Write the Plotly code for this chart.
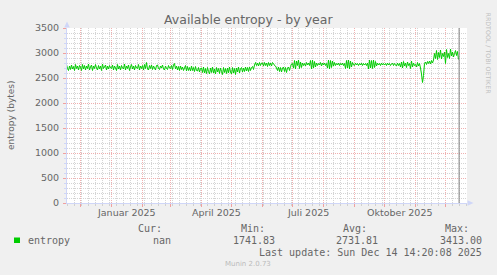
import pandas as pd
import plotly.graph_objects as go

# ---- data (daily averages, bytes) ----
nov_2024 = [2770, 2690, 2650, 2740, 2670, 2760, 2680, 2730, 2650, 2770, 2690, 2740, 2660, 2750]
dec_2024 = [2720, 2650, 2770, 2680, 2750, 2660, 2740, 2690, 2780, 2660, 2720, 2760, 2650, 2740, 2690, 2770,
            2700, 2660, 2750, 2680, 2740, 2650, 2780, 2690, 2720, 2760, 2660, 2740, 2680, 2750, 2700]
jan_2025 = [2690, 2760, 2660, 2740, 2700, 2650, 2770, 2680, 2740, 2660, 2750, 2700, 2680, 2780, 2660, 2740,
            2690, 2760, 2650, 2720, 2770, 2680, 2740, 2660, 2750, 2700, 2690, 2770, 2660, 2740, 2690]
feb_2025 = [2750, 2660, 2770, 2690, 2810, 2680, 2660, 2750, 2690, 2760, 2670, 2740, 2700, 2660, 2750, 2760,
            2690, 2670, 2740, 2700, 2760, 2680, 2660, 2740, 2690, 2670, 2750, 2700]
mar_2025 = [2690, 2750, 2670, 2760, 2790, 2680, 2740, 2660, 2730, 2650, 2740, 2670, 2720, 2650, 2700, 2750,
            2640, 2730, 2650, 2710, 2640, 2740, 2650, 2710, 2630, 2730, 2650, 2640, 2710, 2620, 2690]
apr_2025 = [2700, 2610, 2720, 2600, 2690, 2590, 2710, 2630, 2580, 2700, 2610, 2720, 2600, 2680, 2580, 2710,
            2620, 2690, 2590, 2700, 2630, 2570, 2710, 2610, 2690, 2590, 2700, 2600, 2720, 2620]
may_2025 = [2580, 2710, 2600, 2690, 2570, 2700, 2620, 2720, 2600, 2690, 2710, 2620, 2700, 2630, 2720, 2640,
            2710, 2630, 2720, 2650, 2710, 2730, 2670, 2760, 2810, 2750, 2800, 2740, 2810, 2750, 2800]
jun_2025 = [2800, 2740, 2810, 2750, 2800, 2730, 2810, 2750, 2800, 2740, 2810, 2790, 2750, 2740, 2700, 2650,
            2720, 2630, 2710, 2620, 2700, 2720, 2630, 2710, 2610, 2700, 2720, 2650, 2730, 2780]
jul_2025 = [2790, 2700, 2850, 2680, 2840, 2750, 2860, 2690, 2820, 2710, 2800, 2750, 2790, 2740, 2810, 2760,
            2800, 2750, 2850, 2680, 2860, 2700, 2830, 2720, 2800, 2750, 2790, 2760, 2810, 2740, 2800]
aug_2025 = [2760, 2800, 2750, 2790, 2700, 2860, 2680, 2850, 2710, 2840, 2740, 2810, 2750, 2790, 2760, 2800,
            2750, 2790, 2760, 2800, 2750, 2790, 2690, 2850, 2700, 2860, 2680, 2840, 2720, 2810, 2760]
sep_2025 = [2750, 2800, 2760, 2790, 2750, 2790, 2760, 2800, 2750, 2790, 2760, 2790, 2750, 2800, 2680, 2860,
            2700, 2850, 2690, 2860, 2710, 2830, 2740, 2800, 2760, 2790, 2750, 2800, 2760, 2790]
oct_2025 = [2760, 2790, 2750, 2800, 2760, 2790, 2750, 2780, 2800, 2750, 2790, 2760, 2740, 2800, 2750, 2790,
            2720, 2820, 2700, 2830, 2740, 2800, 2710, 2820, 2750, 2790, 2690, 2840, 2720, 2800, 2750]
nov_2025 = [2770, 2720, 2810, 2740, 2790, 2700, 2580, 2410, 2550, 2790, 2820, 2770, 2830, 2790, 2840, 2780,
            2850, 2800, 2860, 2990, 2890, 3050, 2870, 3010, 2910, 3060, 2880, 2990, 2930, 3020]
dec_2025 = [2790, 3070, 2910, 2990, 2890, 3080, 2940, 3020, 2920, 2990, 3050, 2950, 3030, 2870]

month_starts = ["2024-11-17", "2024-12-01", "2025-01-01", "2025-02-01", "2025-03-01", "2025-04-01",
                "2025-05-01", "2025-06-01", "2025-07-01", "2025-08-01", "2025-09-01", "2025-10-01",
                "2025-11-01", "2025-12-01"]
month_values = [nov_2024, dec_2024, jan_2025, feb_2025, mar_2025, apr_2025, may_2025, jun_2025,
                jul_2025, aug_2025, sep_2025, oct_2025, nov_2025, dec_2025]

x_label_dates = ["2025-01-16", "2025-04-16", "2025-07-16", "2025-10-16"]
x_label_text = ["Januar 2025", "April 2025", "Juli 2025", "Oktober 2025"]

legend_name = "entropy"
stat_heads = ["Cur:", "Min:", "Avg:", "Max:"]
stat_vals = ["nan", "1741.83", "2731.81", "3413.00"]
last_update = "Last update: Sun Dec 14 14:20:08 2025"
now_time = "2025-12-14 14:20:08"
x_start = "2024-11-17 12:00"
x_end = "2025-12-22 12:00"

dates, values = [], []
for start, vals in zip(month_starts, month_values):
    dates += list(pd.date_range(start, periods=len(vals), freq="D"))
    values += vals

# grid positions: month starts (major) and Mondays (minor)
major_grid = list(pd.date_range("2024-12-01", "2025-12-01", freq="MS"))
minor_grid = [d for d in pd.date_range("2024-11-18", "2025-12-22", freq="W-MON") if d.day != 1]

# ---- geometry helpers (pixels -> paper) ----
L, R, T, B = 67, 30, 28, 72
W, H = 497, 275
PW, PH = W - L - R, H - T - B


def fx(px):
    return (px - L) / PW


def fy(py):
    return (H - B - py) / PH


FONT = "DejaVu Sans"
MONO = "DejaVu Sans Mono"
FC = "#666666"
AXIS = "#CFD6F8"
MAJ = "#F0B0B0"
MIN = "#D4D4D4"
DOT = "1px,1px"

fig = go.Figure()
fig.add_trace(go.Scatter(x=dates, y=values, mode="lines",
                         line=dict(color="#00CC00", width=1, simplify=False), hoverinfo="skip"))

fig.update_layout(
    width=W, height=H,
    margin=dict(l=L, r=R, t=T, b=B),
    paper_bgcolor="#F0F0F0", plot_bgcolor="#FFFFFF",
    showlegend=False,
    xaxis=dict(
        range=[x_start, x_end], type="date",
        showticklabels=False,
        tickmode="array", tickvals=major_grid,
        ticks="outside", ticklen=3, tickcolor="#F0A0A0",
        showgrid=False,
        showline=True, linecolor=AXIS, linewidth=1,
        zeroline=False,
        minor=dict(tickmode="array", tickvals=minor_grid, showgrid=True,
                   gridcolor=MIN, griddash=DOT, ticks="outside", ticklen=2, tickcolor="#D0D0D0"),
    ),
    yaxis=dict(
        range=[0, 3500], dtick=500, tick0=0,
        tickfont=dict(family=FONT, size=9.5, color=FC),
        ticks="outside", ticklen=3, tickcolor="#F0A0A0",
        ticklabelstandoff=2,
        showgrid=True, gridcolor=MAJ, griddash=DOT, gridwidth=1,
        showline=True, linecolor=AXIS, linewidth=1,
        zeroline=False,
        minor=dict(dtick=100, showgrid=True, gridcolor=MIN, griddash=DOT,
                   ticks="outside", ticklen=2, tickcolor=AXIS),
    ),
)

ann = []
ann.append(dict(text="Available entropy - by year", xref="paper", yref="paper",
                x=fx(248.5), y=fy(19), xanchor="center", yanchor="middle", showarrow=False,
                font=dict(family=FONT, size=12.5, color=FC)))
ann.append(dict(text="entropy (bytes)", xref="paper", yref="paper", textangle=-90,
                x=fx(11), y=fy(115), xanchor="center", yanchor="middle", showarrow=False,
                font=dict(family=FONT, size=9, color=FC)))
ann.append(dict(text="RRDTOOL / TOBI OETIKER", xref="paper", yref="paper", textangle=90,
                x=fx(488), y=fy(53.5), xanchor="center", yanchor="middle", showarrow=False,
                font=dict(family=FONT, size=6.3, color="#C0C0C0")))
for d, t in zip(x_label_dates, x_label_text):
    ann.append(dict(text=t, xref="x", yref="paper", x=d, y=fy(212.5),
                    xanchor="center", yanchor="middle", showarrow=False,
                    font=dict(family=FONT, size=9.5, color=FC)))
ann.append(dict(text=legend_name, xref="paper", yref="paper", x=fx(26), y=fy(240.5),
                xanchor="left", yanchor="middle", showarrow=False,
                font=dict(family=MONO, size=10, color=FC)))
head_right = [163.5, 266.5, 368.5, 470.5]
val_right = [172.5, 276.5, 379.5, 483.5]
for h, v, hx, vx in zip(stat_heads, stat_vals, head_right, val_right):
    ann.append(dict(text=h, xref="paper", yref="paper", x=fx(hx), y=fy(228),
                    xanchor="right", yanchor="middle", showarrow=False,
                    font=dict(family=MONO, size=10, color=FC)))
    ann.append(dict(text=v, xref="paper", yref="paper", x=fx(vx), y=fy(240.5),
                    xanchor="right", yanchor="middle", showarrow=False,
                    font=dict(family=MONO, size=10, color=FC)))
ann.append(dict(text=last_update, xref="paper", yref="paper", x=fx(483.5), y=fy(252),
                xanchor="right", yanchor="middle", showarrow=False,
                font=dict(family=MONO, size=10, color=FC)))
ann.append(dict(text="Munin 2.0.73", xref="paper", yref="paper", x=fx(248), y=fy(264),
                xanchor="center", yanchor="middle", showarrow=False,
                font=dict(family=FONT, size=7, color="#BBBBBB")))
fig.update_layout(annotations=ann)

shapes = []
# monthly major vertical grid lines
for g in major_grid:
    shapes.append(dict(type="line", xref="x", yref="paper", x0=g, x1=g, y0=0, y1=1, layer="below",
                       line=dict(color=MAJ, width=1, dash=DOT)))
# now line
shapes.append(dict(type="line", xref="x", yref="paper", x0=now_time, x1=now_time, y0=0, y1=1,
                   line=dict(color="#808080", width=1)))
# legend colour box
shapes.append(dict(type="rect", xref="paper", yref="paper", x0=fx(14), x1=fx(20),
                   y0=fy(243), y1=fy(237.5), fillcolor="#00CC00", line=dict(width=0)))
# axis arrows
shapes.append(dict(type="path", xref="paper", yref="paper",
                   path=f"M {fx(67)},{fy(21.5)} L {fx(64.2)},{fy(27.5)} L {fx(69.8)},{fy(27.5)} Z",
                   fillcolor=AXIS, line=dict(width=0)))
shapes.append(dict(type="path", xref="paper", yref="paper",
                   path=f"M {fx(473.5)},{fy(203)} L {fx(467.5)},{fy(200.2)} L {fx(467.5)},{fy(205.8)} Z",
                   fillcolor=AXIS, line=dict(width=0)))
fig.update_layout(shapes=shapes)

fig.write_html("out.html")
